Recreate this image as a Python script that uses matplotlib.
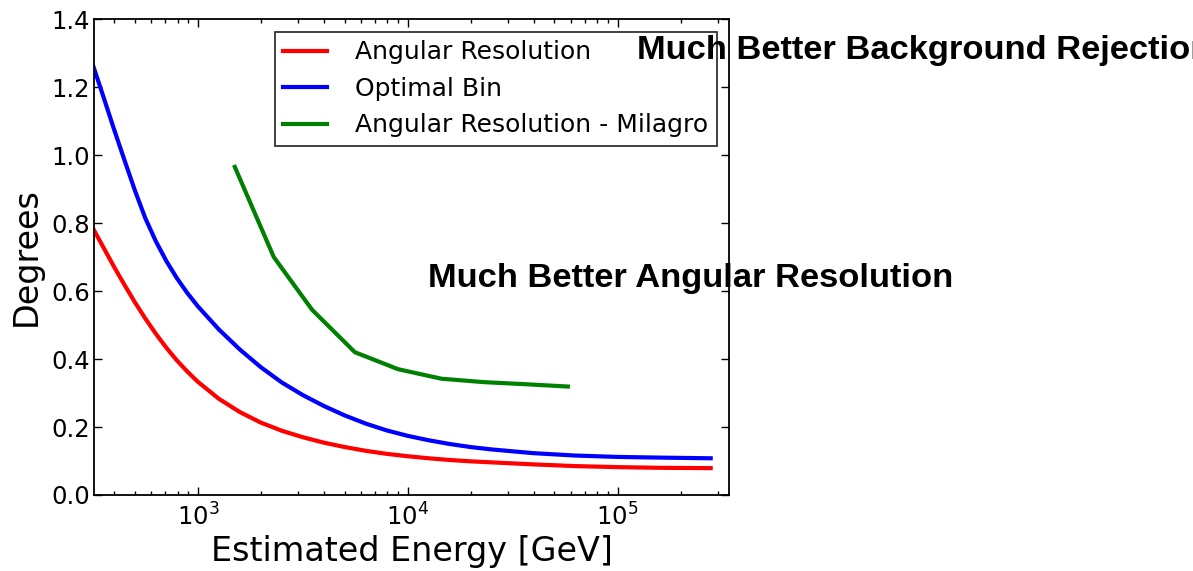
import numpy as np
import matplotlib
matplotlib.use('Agg')
import matplotlib.pyplot as plt
from matplotlib.ticker import FormatStrFormatter, LogLocator

# Energia estimada (GeV)
energia = [316, 355, 398, 447, 501, 562, 631, 708, 794, 891, 1000, 1259,
           1585, 1995, 2512, 3162, 3981, 5012, 6310, 7943, 10000, 12589,
           15849, 19953, 25119, 39811, 63096, 100000, 158489, 278000]
# Resolução angular (graus)
resolucao = [0.785, 0.728, 0.672, 0.618, 0.567, 0.519, 0.474, 0.433, 0.396,
             0.363, 0.333, 0.283, 0.244, 0.213, 0.189, 0.170, 0.154, 0.141,
             0.130, 0.121, 0.114, 0.108, 0.103, 0.099, 0.096, 0.090, 0.085,
             0.082, 0.080, 0.079]
# Bin ótimo (graus)
bin_otimo = [1.265, 1.171, 1.077, 0.985, 0.896, 0.814, 0.746, 0.688, 0.638,
             0.594, 0.555, 0.487, 0.428, 0.376, 0.331, 0.294, 0.262, 0.234,
             0.210, 0.190, 0.174, 0.161, 0.150, 0.141, 0.134, 0.123, 0.116,
             0.112, 0.110, 0.108]

# Milagro
energia_milagro = [1500, 2300, 3500, 5600, 9000, 14500, 23000, 36000, 58000]
resolucao_milagro = [0.965, 0.70, 0.545, 0.42, 0.37, 0.342, 0.332, 0.326, 0.319]

fig = plt.figure(figsize=(11.93, 5.71), dpi=100)
ax = fig.add_axes([0.0788, 0.1331, 0.5323, 0.8336])

ax.plot(energia, resolucao, color='r', lw=3, label='Angular Resolution')
ax.plot(energia, bin_otimo, color='b', lw=3, label='Optimal Bin')
ax.plot(energia_milagro, resolucao_milagro, color='g', lw=3,
        label='Angular Resolution - Milagro')

ax.set_xscale('log')
ax.set_xlim(320, 3.4e5)
ax.set_ylim(0, 1.4)
ax.set_yticks(np.arange(0, 1.41, 0.2))
ax.yaxis.set_major_formatter(FormatStrFormatter('%.1f'))
ax.xaxis.set_minor_locator(LogLocator(base=10, subs=np.arange(2, 10)))

ax.tick_params(which='both', direction='in', top=True, right=True,
               labelsize=17.5, width=1)
ax.tick_params(which='major', length=6)
ax.tick_params(axis='y', pad=3)
ax.tick_params(axis='x', pad=6)
ax.tick_params(which='minor', length=3)
for s in ax.spines.values():
    s.set_linewidth(1.3)

ax.set_xlabel('Estimated Energy [GeV]', fontsize=24, labelpad=3)
ax.set_ylabel('Degrees', fontsize=24, labelpad=6)

leg = ax.legend(loc='upper right', fontsize=18, fancybox=False,
                handlelength=1.75, handletextpad=1.1, borderpad=0.35,
                labelspacing=0.5, borderaxespad=0.5)
leg.get_frame().set_edgecolor('black')
leg.get_frame().set_linewidth(1.3)

# Anotações por cima do gráfico
fig.text(637 / 1193, 1 - 59 / 571, 'Much Better Background Rejection',
         fontsize=24.8, fontweight='bold', family='Liberation Sans',
         va='baseline', ha='left')
fig.text(428 / 1193, 1 - 287 / 571, 'Much Better Angular Resolution',
         fontsize=24.8, fontweight='bold', family='Liberation Sans',
         va='baseline', ha='left')

fig.savefig('out.png', dpi=100)
